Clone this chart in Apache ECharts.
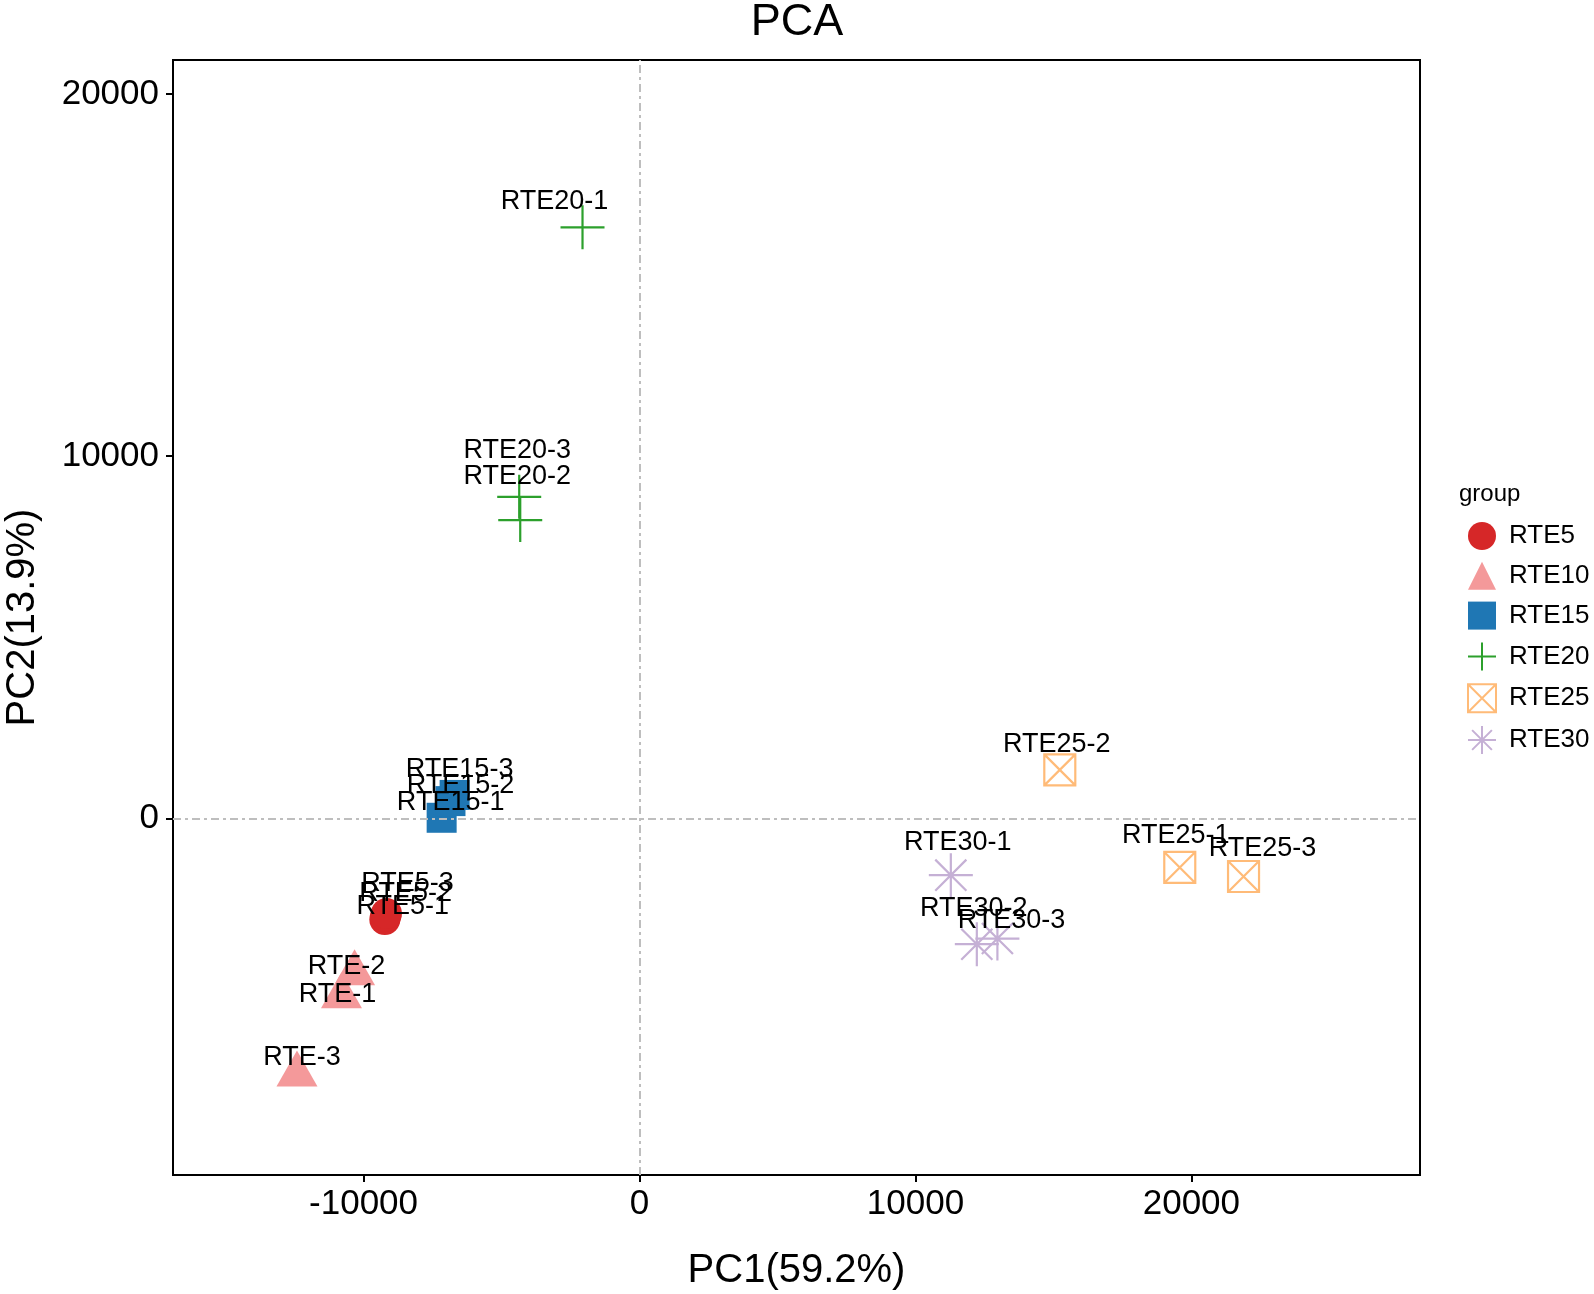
<!DOCTYPE html>
<html>
<head>
<meta charset="utf-8">
<script src="https://cdn.jsdelivr.net/npm/echarts@6/dist/echarts.min.js"></script>
<style>
  html, body { margin: 0; padding: 0; background: #fff; }
  #chart { width: 1594px; height: 1294px; }
</style>
</head>
<body>
<div id="chart"></div>
<script>
// ---- Data ----
const groups = ['RTE5', 'RTE10', 'RTE15', 'RTE20', 'RTE25', 'RTE30'];

const RTE5_names  = ['RTE5-1', 'RTE5-2', 'RTE5-3'];
const RTE5_pc1    = [-9230, -9200, -9170];
const RTE5_pc2    = [-2790, -2700, -2620];

const RTE10_names = ['RTE-1', 'RTE-2', 'RTE-3'];
const RTE10_pc1   = [-10800, -10326, -12413];
const RTE10_pc2   = [-4906, -4271, -7065];

const RTE15_names = ['RTE15-1', 'RTE15-2', 'RTE15-3'];
const RTE15_pc1   = [-7170, -6850, -6700];
const RTE15_pc2   = [20, 480, 650];

const RTE20_names = ['RTE20-1', 'RTE20-2', 'RTE20-3'];
const RTE20_pc1   = [-2065, -4322, -4359];
const RTE20_pc2   = [16317, 8236, 8879];

const RTE25_names = ['RTE25-1', 'RTE25-2', 'RTE25-3'];
const RTE25_pc1   = [19580, 15232, 21891];
const RTE25_pc2   = [-1350, 1342, -1601];

const RTE30_names = ['RTE30-1', 'RTE30-2', 'RTE30-3'];
const RTE30_pc1   = [11283, 12225, 12971];
const RTE30_pc2   = [-1565, -3470, -3313];

const xTicks = [-10000, 0, 10000, 20000];
const yTicks = [0, 10000, 20000];

// ---- Styling (not data) ----
const FONT = '"Liberation Sans", Arial, Helvetica, sans-serif';
const colors = ['#D62728', '#F4999A', '#1F77B4', '#2CA02C', '#FFBB78', '#C5B0D5'];

// label nudges in pixels relative to each point (ggrepel-like placement)
const labelNudge = {
  'RTE5-1': [18, -13], 'RTE5-2': [20, -23], 'RTE5-3': [21, -30],
  'RTE-1': [-4, -2], 'RTE-2': [-8, -7], 'RTE-3': [5, -17],
  'RTE15-1': [9, -15], 'RTE15-2': [10, -16], 'RTE15-3': [5, -25],
  'RTE20-1': [-28, -26], 'RTE20-2': [-3, -44], 'RTE20-3': [-2, -46],
  'RTE25-1': [-4, -32], 'RTE25-2': [-3, -25], 'RTE25-3': [19, -28],
  'RTE30-1': [7, -33], 'RTE30-2': [-3, -36], 'RTE30-3': [14, -18]
};

const symbolDefs = [
  { symbol: 'circle', size: 31, filled: true, offset: [0, 0] },
  { symbol: 'triangle', size: [41, 36], filled: true, offset: [0, -6] },
  { symbol: 'rect', size: 30, filled: true, offset: [0, 0] },
  { symbol: 'path://M10,0L10,20M0,10L20,10', size: 44, filled: false, offset: [0, 0] },
  { symbol: 'path://M0,0L20,0L20,20L0,20ZM0,0L20,20M20,0L0,20', size: 31, filled: false, offset: [0, 0] },
  { symbol: 'path://M10,0L10,20M0,10L20,10M2.93,2.93L17.07,17.07M17.07,2.93L2.93,17.07', size: 44, filled: false, offset: [0, 0] }
];

const groupData = [
  [RTE5_names, RTE5_pc1, RTE5_pc2],
  [RTE10_names, RTE10_pc1, RTE10_pc2],
  [RTE15_names, RTE15_pc1, RTE15_pc2],
  [RTE20_names, RTE20_pc1, RTE20_pc2],
  [RTE25_names, RTE25_pc1, RTE25_pc2],
  [RTE30_names, RTE30_pc1, RTE30_pc2]
];

const series = groups.map(function (g, i) {
  const def = symbolDefs[i];
  const [names, xs, ys] = groupData[i];
  const data = names.map(function (n, k) {
    const nd = labelNudge[n] || [0, 0];
    return {
      name: n,
      value: [xs[k], ys[k]],
      label: { offset: [nd[0] - def.offset[0], nd[1] - def.offset[1]] }
    };
  });
  return {
    name: g,
    type: 'scatter',
    symbol: def.symbol,
    symbolSize: def.size,
    symbolOffset: def.offset,
    data: data,
    itemStyle: def.filled
      ? { color: colors[i], opacity: 1 }
      : { color: 'rgba(0,0,0,0)', borderColor: colors[i], borderWidth: 2.2, opacity: 1 },
    label: {
      show: true,
      position: 'inside',
      formatter: function (p) { return p.name; },
      color: '#000',
      fontSize: 27,
      fontFamily: FONT
    },
    emphasis: { disabled: true },
    z: 3
  };
});

series.push({
  name: 'refLines',
  type: 'scatter',
  data: [],
  silent: true,
  z: 1,
  markLine: {
    silent: true,
    symbol: 'none',
    label: { show: false },
    lineStyle: { color: '#BEBEBE', width: 2, type: [8, 4, 3, 4] },
    emphasis: { disabled: true },
    data: [{ xAxis: 0 }, { yAxis: 0 }]
  }
});

const plainNum = function (v) { return String(v); };

const option = {
  animation: false,
  backgroundColor: '#fff',
  title: [
    {
      text: 'PCA', left: 'center', top: 0, padding: 0,
      textStyle: { fontSize: 45, fontWeight: 'normal', color: '#000', fontFamily: FONT }
    },
    {
      text: 'group', left: 1459, top: 482, padding: 0,
      textStyle: { fontSize: 24, fontWeight: 'normal', color: '#000', fontFamily: FONT }
    }
  ],
  legend: {
    orient: 'vertical',
    left: 1467,
    top: 522,
    padding: 0,
    itemWidth: 28,
    itemHeight: 28,
    itemGap: 11.8,
    data: groups,
    selectedMode: false,
    textStyle: { fontSize: 26, color: '#000', fontFamily: FONT, padding: [0, 0, 0, 8] }
  },
  grid: {
    left: 173, right: 174, top: 60, bottom: 119,
    outerBoundsMode: 'none',
    containLabel: false,
    show: true, borderColor: '#000', borderWidth: 2, backgroundColor: 'transparent'
  },
  xAxis: {
    type: 'value',
    min: -16906, max: 28286,
    name: 'PC1(59.2%)',
    nameLocation: 'middle',
    nameGap: 76,
    nameTextStyle: { fontSize: 40, color: '#000', fontFamily: FONT },
    axisLine: { show: false, onZero: false },
    splitLine: { show: false },
    axisTick: { show: true, length: 7, lineStyle: { color: '#000', width: 2 }, customValues: xTicks },
    axisLabel: { fontSize: 35, color: '#000', fontFamily: FONT, margin: 12, customValues: xTicks, formatter: plainNum }
  },
  yAxis: {
    type: 'value',
    min: -9840, max: 20936,
    name: 'PC2(13.9%)',
    nameLocation: 'middle',
    nameGap: 130,
    nameTextStyle: { fontSize: 40, color: '#000', fontFamily: FONT },
    axisLine: { show: false, onZero: false },
    splitLine: { show: false },
    axisTick: { show: true, length: 7, lineStyle: { color: '#000', width: 2 }, customValues: yTicks },
    axisLabel: { fontSize: 35, color: '#000', fontFamily: FONT, margin: 14, customValues: yTicks, formatter: plainNum }
  },
  series: series
};

const chart = echarts.init(document.getElementById('chart'), null, { renderer: 'canvas' });
chart.setOption(option);
</script>
</body>
</html>
